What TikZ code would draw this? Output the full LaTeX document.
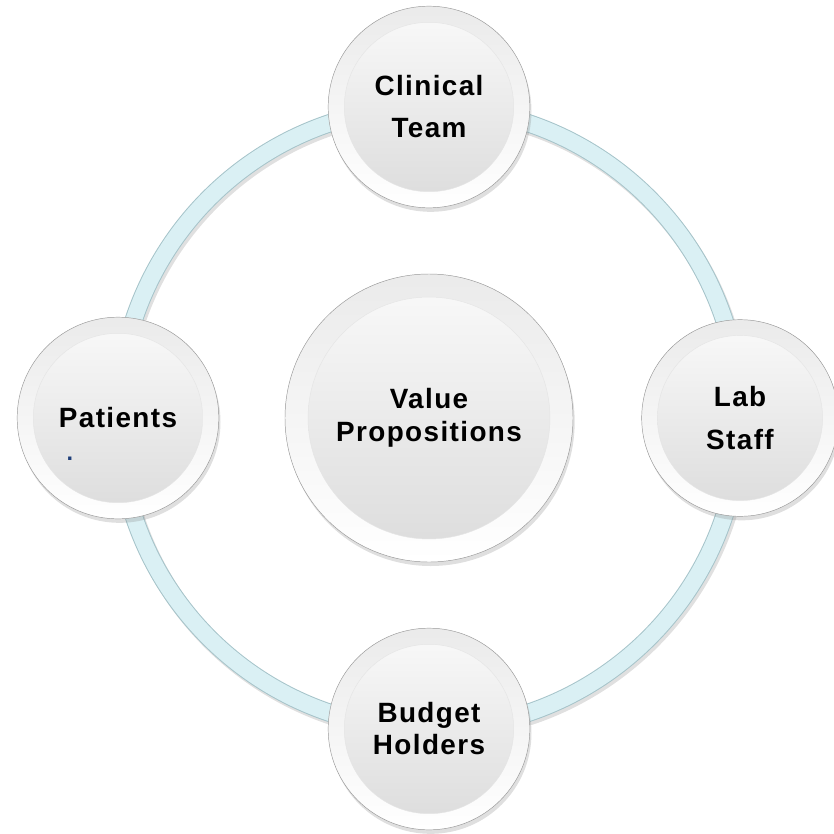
\documentclass[tikz,border=0pt]{standalone}
\usepackage{fontspec}
\newfontfamily\labelfont[LetterSpace=5]{Liberation Sans}
\usetikzlibrary{positioning,shadows}
\definecolor{ringfill}{HTML}{DAF0F4}
\definecolor{ringedge}{HTML}{A6C4CA}
\definecolor{dotblue}{HTML}{1F3F7A}

\begin{document}
\begin{tikzpicture}
\tikzset{node distance=9.33cm,
    disc/.style={circle, draw=black!40, line width=0.4pt, inner sep=0pt,
        minimum size=#1cm, align=center,
        top color=black!8, bottom color=white,
        drop shadow={shadow xshift=0.5mm, shadow yshift=-1.2mm, opacity=0.25},
        path picture={\shade[top color=black!2, bottom color=black!14, draw=black!10]
            (path picture bounding box.center) circle [radius=0.42*#1cm];},
        font=\labelfont\bfseries\fontsize{23.8}{35.8}\selectfont},
    leading/.style={font=\labelfont\bfseries\fontsize{23.8}{#1}\selectfont},
    ringband/.style={line width=0.55cm, draw=ringedge},
    ringcore/.style={line width=0.49cm, draw=ringfill}
}
  \useasboundingbox (0,0) rectangle (25.02,-25.02);

  \node[coordinate] (hub) at (12.87,-12.54) {};
  % ring behind the discs
  \draw[ringband, draw=black!35, opacity=0.35] ([shift={(0.06,-0.09)}]hub) circle (9.33cm);
  \draw[ringband] (hub) circle (9.33cm);
  \draw[ringcore] (hub) circle (9.33cm);

  \node[disc=8.64, leading=28.5] (value) at (hub) {Value\\Propositions};
  \node[disc=6.05, above of=hub] (clinical) {Clinical\\Team};
  \node[disc=6.05, left of=hub] (patients) {Patients};
  \node[disc=5.9, right of=hub, leading=36.7] (lab) {Lab\\Staff};
  \node[disc=6.05, below of=hub, leading=27.3] (budget) {Budget\\Holders};
  \node[text=dotblue, font=\labelfont\bfseries\fontsize{20}{20}\selectfont] (stray) at (2.1,-13.75) {.};
\end{tikzpicture}
\end{document}
